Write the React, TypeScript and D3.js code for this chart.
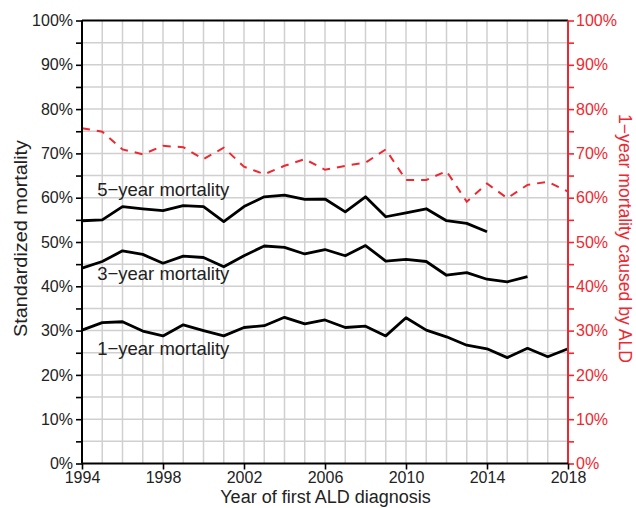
import React, { useEffect, useRef } from "react";
import * as d3 from "d3";

const years = d3.range(1994, 2019);
const mort1 = [30.1, 31.8, 32.0, 29.9, 28.8, 31.3, 30.0, 28.8, 30.7, 31.1, 33.0, 31.5, 32.4, 30.7, 31.0, 28.8, 32.9, 30.1, 28.6, 26.7, 25.9, 23.9, 26.0, 24.1, 25.9];
const mort3 = [44.1, 45.6, 48.0, 47.2, 45.2, 46.8, 46.5, 44.4, 46.9, 49.1, 48.8, 47.3, 48.3, 46.9, 49.2, 45.7, 46.1, 45.6, 42.5, 43.1, 41.6, 41.0, 42.2];
const mort5 = [54.8, 55.0, 58.0, 57.5, 57.1, 58.2, 58.0, 54.6, 58.0, 60.2, 60.6, 59.6, 59.7, 56.8, 60.2, 55.7, 56.6, 57.5, 54.8, 54.2, 52.3];
const aldShare = [75.7, 74.9, 70.9, 69.8, 71.7, 71.4, 68.7, 71.3, 67.0, 65.3, 67.2, 68.7, 66.3, 67.2, 67.9, 70.9, 64.0, 64.0, 66.0, 59.1, 63.2, 59.9, 62.9, 63.6, 61.4];
const xTickYears = [1994, 1998, 2002, 2006, 2010, 2014, 2018];
const seriesLabels = [
  { text: "5\u2212year mortality", year: 1994.75, value: 60.4 },
  { text: "3\u2212year mortality", year: 1994.75, value: 41.4 },
  { text: "1\u2212year mortality", year: 1994.75, value: 24.5 },
];

const RED = "#ee2730";
const FONT = "Liberation Sans, Arial, sans-serif";

const App: React.FC = () => {
  const ref = useRef<SVGSVGElement>(null);

  useEffect(() => {
    const left = 82, right = 568, top = 20.5, bottom = 463.5;
    const svg = d3.select(ref.current);
    svg.selectAll("*").remove();

    const x = d3.scaleLinear().domain([1994, 2018]).range([left, right]);
    const y = d3.scaleLinear().domain([0, 100]).range([bottom, top]);

    // grid: every year, every 5%
    const grid = svg.append("g").attr("stroke", "#d0d0d0").attr("stroke-width", 1.5);
    grid.selectAll("line.v").data(years).enter().append("line")
      .attr("x1", d => x(d)).attr("x2", d => x(d)).attr("y1", top).attr("y2", bottom);
    grid.selectAll("line.h").data(d3.range(5, 100, 5)).enter().append("line")
      .attr("x1", left).attr("x2", right).attr("y1", d => y(d)).attr("y2", d => y(d));

    svg.append("line").attr("x1", left).attr("x2", right).attr("y1", top).attr("y2", top)
      .attr("stroke", "#000").attr("stroke-width", 2);

    const line = d3.line<number>().x((_, i) => x(years[i])).y(d => y(d));

    svg.append("path").attr("d", line(aldShare)!).attr("fill", "none")
      .attr("stroke", RED).attr("stroke-width", 2).attr("stroke-dasharray", "8,7");

    [mort5, mort3, mort1].forEach(s => {
      svg.append("path").attr("d", line(s)!).attr("fill", "none")
        .attr("stroke", "#000").attr("stroke-width", 2.8).attr("stroke-linejoin", "round");
    });

    const pct = (d: d3.NumberValue) => (+d % 10 === 0 ? `${d}%` : "");

    // left axis
    const yl = svg.append("g").attr("transform", `translate(${left},0)`)
      .call(d3.axisLeft(y).tickValues(d3.range(0, 101, 5)).tickSize(6).tickFormat(pct));
    yl.select(".domain").attr("stroke-width", 2).attr("d", `M0,${bottom}V${top}`);
    yl.selectAll(".tick line").attr("stroke-width", 1.6);
    yl.selectAll("text").attr("font-size", 16).attr("font-family", FONT).attr("fill", "#222").attr("x", -9);

    // right axis
    const yr = svg.append("g").attr("transform", `translate(${right},0)`)
      .call(d3.axisRight(y).tickValues(d3.range(0, 101, 5)).tickSize(6).tickFormat(pct));
    yr.select(".domain").attr("stroke", RED).attr("stroke-width", 2).attr("d", `M0,${bottom}V${top}`);
    yr.selectAll(".tick line").attr("stroke", RED).attr("stroke-width", 1.6);
    yr.selectAll("text").attr("font-size", 16).attr("font-family", FONT).attr("fill", RED).attr("x", 8);

    // bottom axis
    const xa = svg.append("g").attr("transform", `translate(0,${bottom})`)
      .call(d3.axisBottom(x).tickValues(xTickYears).tickSize(6).tickFormat(d3.format("d")));
    xa.select(".domain").attr("stroke-width", 2).attr("d", `M${left},0H${right}`);
    xa.selectAll(".tick line").attr("stroke-width", 1.6);
    xa.selectAll("text").attr("font-size", 16).attr("font-family", FONT).attr("fill", "#222").attr("y", 8);

    svg.selectAll("text.lbl").data(seriesLabels).enter().append("text")
      .attr("x", d => x(d.year)).attr("y", d => y(d.value))
      .attr("font-size", 18.5).attr("font-family", FONT).attr("fill", "#222")
      .text(d => d.text);

    // axis titles
    svg.append("text").attr("x", 325.5).attr("y", 503)
      .attr("text-anchor", "middle").attr("font-size", 18).attr("font-family", FONT).attr("fill", "#222")
      .text("Year of first ALD diagnosis");
    svg.append("text").attr("transform", `translate(26.5,238.5) rotate(-90)`)
      .attr("text-anchor", "middle").attr("font-size", 18).attr("font-family", FONT).attr("fill", "#222")
      .attr("textLength", 197).attr("lengthAdjust", "spacingAndGlyphs")
      .text("Standardized mortality");
    svg.append("text").attr("transform", `translate(619,238.5) rotate(90)`)
      .attr("text-anchor", "middle").attr("font-size", 17.6).attr("font-family", FONT).attr("fill", RED)
      .text("1\u2212year mortality caused by ALD");
  }, []);

  return (
    <svg ref={ref} width={636} height={508} style={{ position: "absolute", left: 0, top: 0, background: "#fff" }} />
  );
};

export default App;
